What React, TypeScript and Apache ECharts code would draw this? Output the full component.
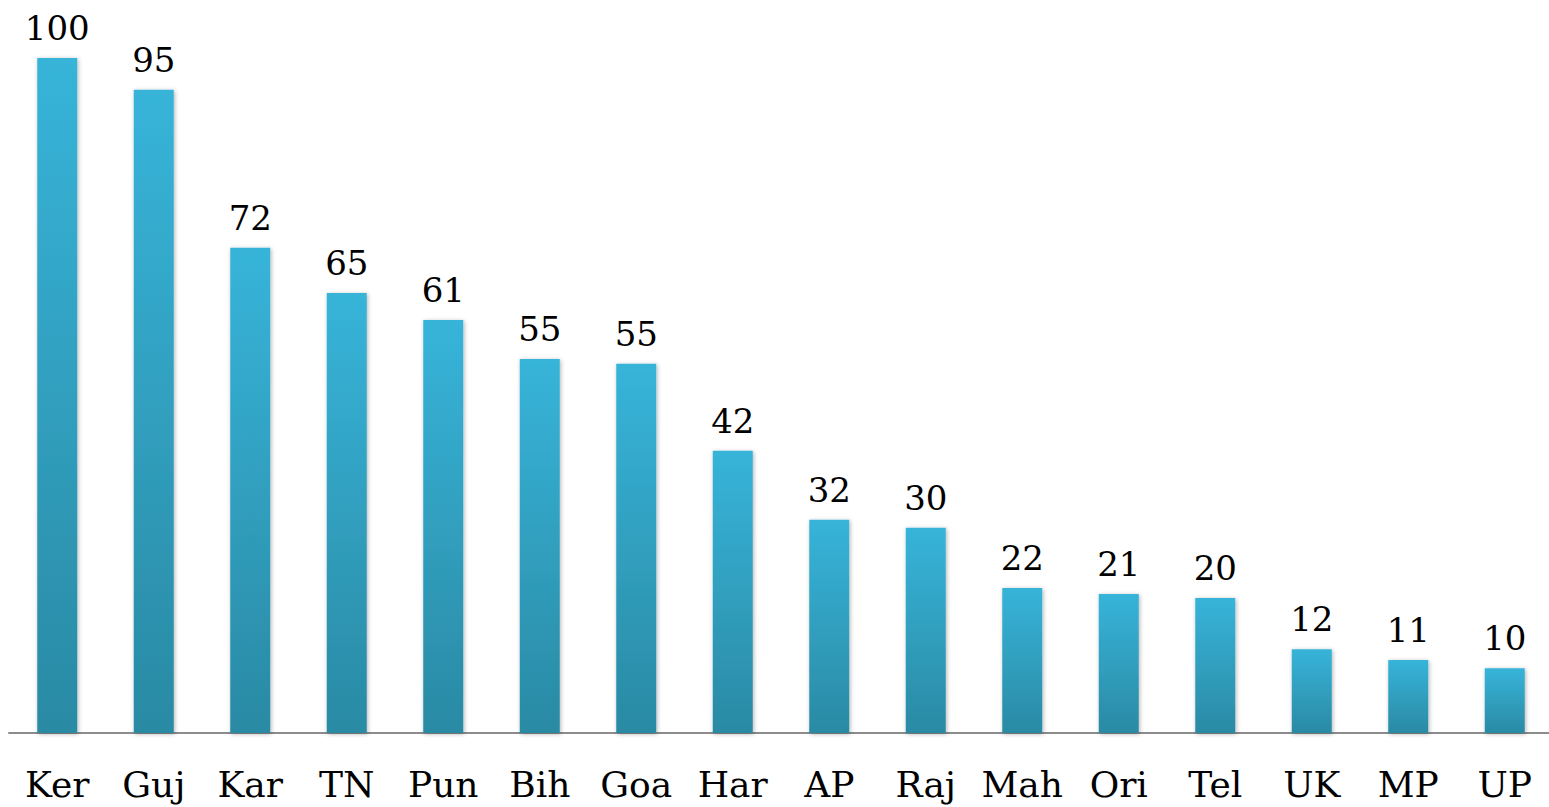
import React, { useEffect, useRef } from "react";
import * as echarts from "echarts";

const categories = ["Ker", "Guj", "Kar", "TN", "Pun", "Bih", "Goa", "Har", "AP", "Raj", "Mah", "Ori", "Tel", "UK", "MP", "UP"];
const values = [100, 95.3, 71.9, 65.2, 61.2, 55.4, 54.7, 41.8, 31.6, 30.4, 21.5, 20.6, 20.0, 12.4, 10.8, 9.6];
const labels = ["100", "95", "72", "65", "61", "55", "55", "42", "32", "30", "22", "21", "20", "12", "11", "10"];

const FONT = "'DejaVu Serif', 'Liberation Serif', serif";

export default function App() {
  const ref = useRef<HTMLDivElement>(null);
  useEffect(() => {
    if (!ref.current) return;
    const chart = echarts.init(ref.current, null, { renderer: "svg" });
    chart.setOption({
      animation: false,
      backgroundColor: "#ffffff",
      grid: { left: 9, right: 0, top: 58, bottom: 74 },
      xAxis: {
        type: "category",
        data: categories,
        axisLine: { show: true, lineStyle: { color: "#8c8c8c", width: 2 } },
        axisTick: { show: false },
        axisLabel: { interval: 0, color: "#000", fontFamily: FONT, fontSize: 36, margin: 33 },
      },
      yAxis: {
        type: "value",
        min: 0,
        max: 100,
        show: false,
        splitLine: { show: false },
      },
      series: [
        {
          type: "bar",
          data: values,
          barWidth: 40,
          itemStyle: {
            color: new echarts.graphic.LinearGradient(0, 0, 0, 1, [
              { offset: 0, color: "#37b4d9" },
              { offset: 1, color: "#2a8aa4" },
            ]),
            shadowColor: "rgba(0,0,0,0.3)",
            shadowBlur: 4,
            shadowOffsetX: 1,
            shadowOffsetY: 1,
          },
          label: {
            show: true,
            position: "top",
            distance: 13,
            color: "#000",
            fontFamily: FONT,
            fontSize: 34,
            formatter: (p: any) => labels[p.dataIndex],
          },
        },
      ],
    });
    return () => chart.dispose();
  }, []);
  return (
    <div style={{ position: "fixed", left: 0, top: 0, width: 1549, height: 807, overflow: "hidden", background: "#fff" }}>
      <div ref={ref} style={{ position: "absolute", left: 0, top: 0, width: 1553, height: 807 }} />
    </div>
  );
}
